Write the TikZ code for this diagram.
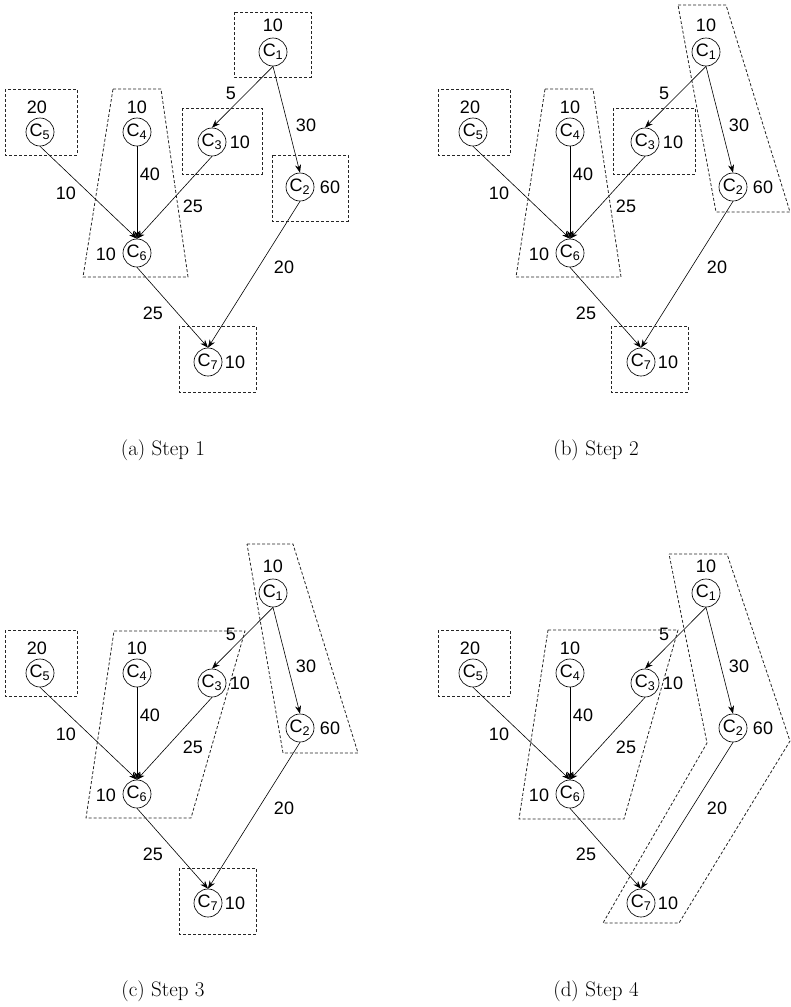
\documentclass[tikz,border=0pt]{standalone}
\usepackage{fontspec}
\usepackage{tikz}
\usetikzlibrary{arrows.meta}
\newfontfamily\etiketfont{Liberation Sans}
\definecolor{kesikGri}{HTML}{262626}

\begin{document}
\begin{tikzpicture}[x=1pt,y=-1pt,
  dugum/.style={circle,draw,line width=0.65pt,minimum size=28pt,inner sep=0pt,font=\etiketfont\fontsize{18}{21}\selectfont},
  agirlik/.style={inner sep=0pt,font=\etiketfont\fontsize{18}{21}\selectfont},
  ok/.style={line width=0.6pt,-{Stealth[length=8pt,width=6pt]}},
  grup/.style={kesikGri,line width=0.8pt,dash pattern=on 3pt off 2pt},
  altyazi/.style={inner sep=0pt,font=\fontsize{21}{25}\selectfont}]
\useasboundingbox (0,0) rectangle (791,1007);
\foreach \p/\dx/\dy/\n in {a/0/0/1,b/433/0/2,c/0/541/3,d/433/541/4}{
\begin{scope}[shift={(\dx,\dy)}]
% dugumler
\node[dugum] (\p1) at (273,52) {C\textsubscript{1}};
\node[dugum] (\p2) at (300,187) {C\textsubscript{2}};
\node[dugum] (\p3) at (212,142) {C\textsubscript{3}};
\node[dugum] (\p4) at (137,132) {C\textsubscript{4}};
\node[dugum] (\p5) at (40,132) {C\textsubscript{5}};
\node[dugum] (\p6) at (137,253) {C\textsubscript{6}};
\node[dugum] (\p7) at (208,362) {C\textsubscript{7}};
% dugum agirliklari
\node[agirlik] (\p-w1) at (273,25) {10};
\node[agirlik] (\p-w2) at (330,187) {60};
\node[agirlik] (\p-w3) at (240,142) {10};
\node[agirlik] (\p-w4) at (137,107) {10};
\node[agirlik] (\p-w5) at (37,107) {20};
\node[agirlik] (\p-w6) at (106,254) {10};
\node[agirlik] (\p-w7) at (235,362) {10};
% kenarlar
\draw[ok] (\p1.south) -- (\p3.north);
\draw[ok] (\p1.south) -- (\p2.north);
\draw[ok] (\p5.south) -- (\p6.north);
\draw[ok] (\p4.south) -- (\p6.north);
\draw[ok] (\p3.south) -- (\p6.north);
\draw[ok] (\p6.south) -- (\p7.north);
\draw[ok] (\p2.south) -- (\p7.north);
% kenar agirliklari
\node[agirlik] (\p-k13) at (231,93) {5};
\node[agirlik] (\p-k12) at (306,125) {30};
\node[agirlik] (\p-k46) at (150,174) {40};
\node[agirlik] (\p-k56) at (66,193) {10};
\node[agirlik] (\p-k36) at (193,206) {25};
\node[agirlik] (\p-k27) at (284,267) {20};
\node[agirlik] (\p-k67) at (153,313) {25};
\node[altyazi] (\p-alt) at (163,450) {(\p) Step \n};
\end{scope}
}
% adim 1
\draw[grup] (234,12) rectangle (311,77);
\draw[grup] (5,89) rectangle (77,155);
\draw[grup] (182,108) rectangle (262,174);
\draw[grup] (272,155) rectangle (348,221);
\draw[grup] (179,326) rectangle (256,392);
\draw[grup] (113,89) -- (161,89) -- (188,277) -- (83,277) -- cycle;
% adim 2
\begin{scope}[shift={(433,0)}]
\draw[grup] (5,89) rectangle (77,155);
\draw[grup] (180,108) rectangle (262,174);
\draw[grup] (178,326) rectangle (255,392);
\draw[grup] (112,89) -- (160,89) -- (188,277) -- (83,277) -- cycle;
\draw[grup] (245,5) -- (293,5) -- (357,212) -- (283,212) -- cycle;
\end{scope}
% adim 3
\begin{scope}[shift={(0,541)}]
\draw[grup] (5,89) rectangle (77,155);
\draw[grup] (179,327) rectangle (256,393);
\draw[grup] (114,90) -- (245,90) -- (191,277) -- (86,277) -- cycle;
\draw[grup] (247,3) -- (293,3) -- (358,212) -- (283,212) -- cycle;
\end{scope}
% adim 4
\begin{scope}[shift={(433,541)}]
\draw[grup] (5,89) rectangle (77,155);
\draw[grup] (115,89) -- (245,89) -- (191,278) -- (86,278) -- cycle;
\draw[grup] (236,13) -- (294,13) -- (357,200) -- (246,382) -- (170,382) -- (274,202) -- cycle;
\end{scope}
\end{tikzpicture}
\end{document}
